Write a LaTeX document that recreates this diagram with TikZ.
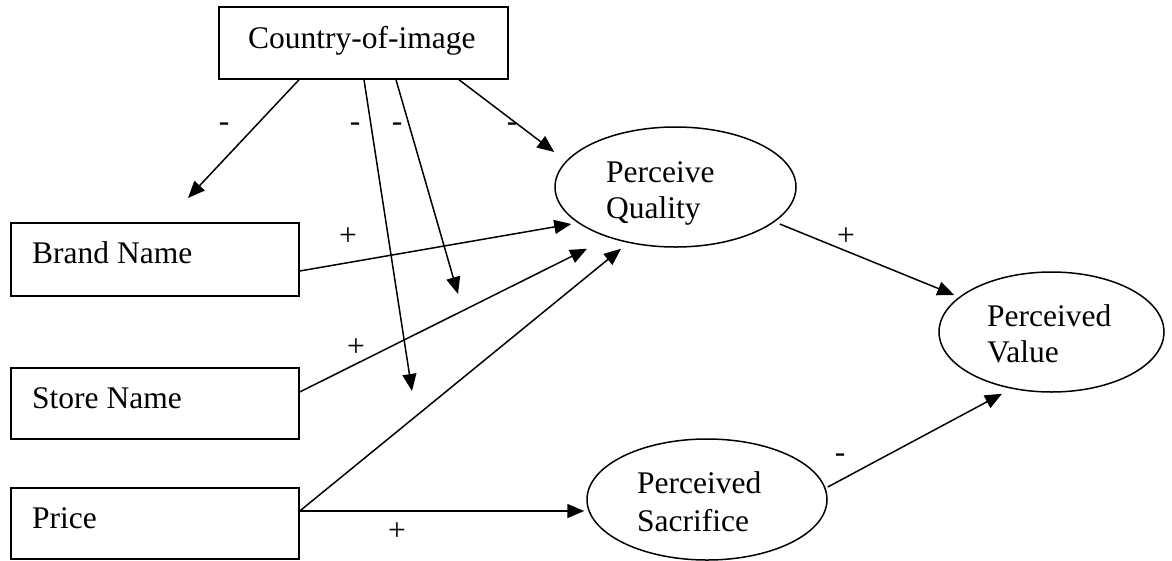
\documentclass[tikz,border=0pt]{standalone}
\usepackage{fontspec}
\setmainfont{Liberation Serif}
\usetikzlibrary{arrows.meta,shapes.geometric}
\tikzset{
  box/.style={draw, line width=1.5pt, rectangle, inner sep=0pt, minimum width=288pt},
  oval/.style={draw, line width=1.5pt, ellipse, inner sep=0pt},
  lbl/.style={font=\fontsize{31.5}{36}\selectfont, inner sep=0pt, anchor=base west},
  sign/.style={font=\fontsize{31.5}{36}\selectfont, inner sep=0pt},
  conn/.style={line width=1.5pt, -{Triangle[length=17pt,width=14pt]}}
}
\begin{document}
\begin{tikzpicture}[x=1pt,y=-1pt]
\useasboundingbox (0,0) rectangle (1172,560);
% boxes
\node[box, minimum width=289pt, minimum height=72pt] (country) at (363.5,43) {};
\node[box, minimum height=73pt] (brand) at (155,259.5) {};
\node[box, minimum height=71pt] (store) at (155,403.5) {};
\node[box, minimum height=71pt] (price) at (155,523.5) {};
% ellipses
\node[oval, minimum width=241pt, minimum height=120pt] (pq) at (675.5,187) {};
\node[oval, minimum width=225pt, minimum height=120pt] (pv) at (1051.5,332) {};
\node[oval, minimum width=240pt, minimum height=121pt] (ps) at (707,499.5) {};
% texts
\node[lbl] (tcountry) at (248,48) {Country-of-image};
\node[lbl] (tbrand) at (32,263) {Brand Name};
\node[lbl] (tstore) at (32,408) {Store Name};
\node[lbl] (tprice) at (32,528) {Price};
\node[lbl] (tpq1) at (606,182) {Perceive};
\node[lbl] (tpq2) at (606,218) {Quality};
\node[lbl] (tpv1) at (987,326) {Perceived};
\node[lbl] (tpv2) at (987,362) {Value};
\node[lbl] (tps1) at (637,493) {Perceived};
\node[lbl] (tps2) at (637,531) {Sacrifice};
% free arrow ends
\coordinate (c1) at (188,198);
\coordinate (c2) at (412,391);
\coordinate (c3) at (458,294);
% connectors from Country-of-image
\draw[conn] ([xshift=-64.5pt]country.south) -- (c1);
\draw[conn] ([xshift=0.5pt]country.south) -- (c2);
\draw[conn] ([xshift=32.5pt]country.south) -- (c3);
\draw[conn] ([xshift=95.5pt]country.south) -- ([yshift=35pt]pq.west);
% antecedents to perceived quality
\draw[conn] ([yshift=-11.5pt]brand.east) -- ([xshift=17pt,yshift=-37pt]pq.west);
\draw[conn] ([yshift=11.5pt]store.east) -- ([xshift=-88.5pt,yshift=-1pt]pq.south);
\draw[conn] ([yshift=12.5pt]price.east) -- ([xshift=-54.5pt,yshift=-1pt]pq.south);
\draw[conn] ([yshift=12.5pt]price.east) -- ([xshift=-2pt,yshift=-11.5pt]ps.west);
% to perceived value
\draw[conn] ([xshift=-17pt,yshift=-37pt]pq.east) -- ([xshift=16pt,yshift=37pt]pv.west);
\draw[conn] ([yshift=12.5pt]ps.east) -- ([xshift=-49.5pt,yshift=-1pt]pv.south);
% signs
\node[sign] (s1) at (224,127) {-};
\node[sign] (s2) at (355,127) {-};
\node[sign] (s3) at (397,127) {-};
\node[sign] (s4) at (512,127) {-};
\node[sign] (s5) at (840,458) {-};
\node[sign] (p1) at (348,237) {+};
\node[sign] (p2) at (356,348) {+};
\node[sign] (p3) at (397,532) {+};
\node[sign] (p4) at (846,237) {+};
\end{tikzpicture}
\end{document}
